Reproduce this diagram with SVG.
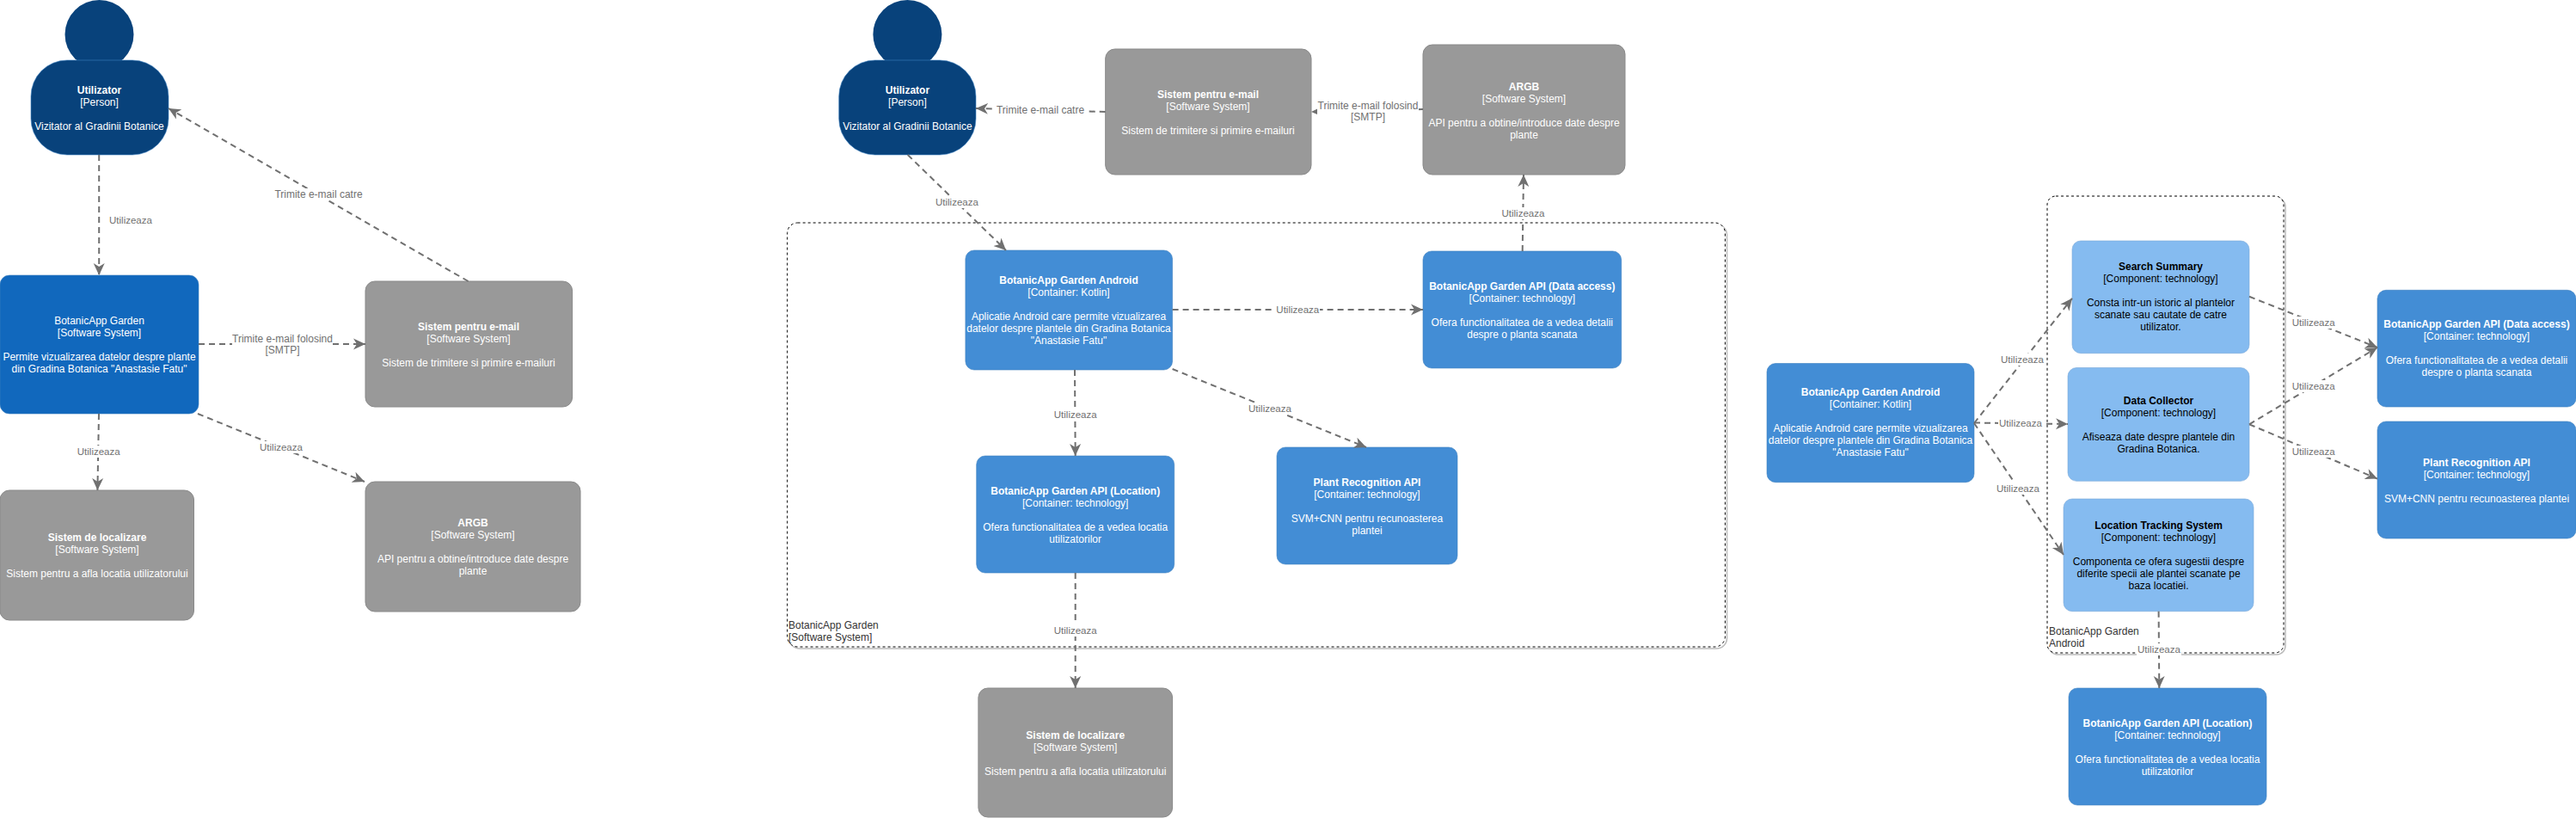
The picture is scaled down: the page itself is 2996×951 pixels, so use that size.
<svg xmlns="http://www.w3.org/2000/svg" width="2996" height="951" viewBox="0 0 2996 951">
<style>
text{font-family:"Liberation Sans",Arial,sans-serif;font-size:12px;text-anchor:middle}
.w{fill:#fff}.k{fill:#000}.b{font-weight:bold}
.person{fill:#08427b;stroke:#3c7fc0;stroke-width:.6}
.head{fill:#08427b}
.sys{fill:#1168bd;stroke:#3c7fc0;stroke-width:.6}
.ext{fill:#999;stroke:#8a8a8a}
.cont{fill:#438dd5;stroke:#3c7fc0;stroke-width:.6}
.comp{fill:#85bbf0;stroke:#78a8d8;stroke-width:.6}
.bnd{fill:#fff;stroke:#000;stroke-dasharray:3 3}
.shadow{fill:none;stroke:#bbb;stroke-width:1.5}
.c{fill:none;stroke:#707070;stroke-width:2;stroke-dasharray:7 5;marker-end:url(#a)}
.l{fill:#707070;font-size:11.500px}
.t{fill:#707070;font-size:12px}
.bg{fill:#fff}
.bl{fill:#333;text-anchor:start}
</style>
<defs>
<marker id="a" markerUnits="userSpaceOnUse" markerWidth="16" markerHeight="14" refX="14" refY="7" orient="auto"><path d="M0,0.5 L14,7 L0,13.5 L4,7 Z" fill="#707070"/></marker>
</defs>
<g id="boundary-system"><rect class="shadow" x="918" y="261" width="1090.500" height="493" rx="12"/><rect class="bnd" x="915.700" y="259" width="1090.700" height="493" rx="12"/><text class="bl" x="917" y="731">BotanicApp Garden</text><text class="bl" x="917" y="745">[Software System]</text></g>
<g id="boundary-android"><rect class="shadow" x="2383" y="230" width="275" height="531" rx="10"/><rect class="bnd" x="2381" y="228" width="275" height="531" rx="10"/><text class="bl" x="2383" y="738">BotanicApp Garden</text><text class="bl" x="2383" y="752">Android</text></g>

<g id="person-1"><ellipse class="head" cx="115.500" cy="40" rx="40" ry="40"/><rect class="person" x="36" y="70" width="160" height="110" rx="42"/><g class="w"><text class="b" x="115.500" y="109">Utilizator</text><text x="115.500" y="123">[Person]</text><text x="115.500" y="151">Vizitator al Gradinii Botanice</text></g></g>
<g id="system-1"><rect class="sys" x="0" y="320" width="231" height="161" rx="11"/><g class="w"><text x="115.500" y="377">BotanicApp Garden</text><text x="115.500" y="391">[Software System]</text><text x="115.500" y="419">Permite vizualizarea datelor despre plante</text><text x="115.500" y="433">din Gradina Botanica "Anastasie Fatu"</text></g></g>
<g id="email-1"><rect class="ext" x="425" y="327" width="240.600" height="146" rx="11"/><g class="w"><text class="b" x="545" y="384">Sistem pentru e-mail</text><text x="545" y="398">[Software System]</text><text x="545" y="426">Sistem de trimitere si primire e-mailuri</text></g></g>
<g id="loc-1"><rect class="ext" x="0" y="570" width="225.500" height="151" rx="11"/><g class="w"><text class="b" x="113" y="629">Sistem de localizare</text><text x="113" y="643">[Software System]</text><text x="113" y="671">Sistem pentru a afla locatia utilizatorului</text></g></g>
<g id="argb-1"><rect class="ext" x="425" y="560" width="250" height="151" rx="11"/><g class="w"><text class="b" x="550" y="612">ARGB</text><text x="550" y="626">[Software System]</text><text x="550" y="654">API pentru a obtine/introduce date despre</text><text x="550" y="668">plante</text></g></g>

<g id="person-2"><ellipse class="head" cx="1055.400" cy="40" rx="40" ry="40"/><rect class="person" x="975.700" y="70" width="159.300" height="110" rx="42"/><g class="w"><text class="b" x="1055.400" y="109">Utilizator</text><text x="1055.400" y="123">[Person]</text><text x="1055.400" y="151">Vizitator al Gradinii Botanice</text></g></g>
<g id="email-2"><rect class="ext" x="1285.700" y="57" width="239.300" height="146" rx="11"/><g class="w"><text class="b" x="1405" y="114">Sistem pentru e-mail</text><text x="1405" y="128">[Software System]</text><text x="1405" y="156">Sistem de trimitere si primire e-mailuri</text></g></g>
<g id="argb-2"><rect class="ext" x="1655" y="52" width="235" height="151" rx="11"/><g class="w"><text class="b" x="1772.500" y="105">ARGB</text><text x="1772.500" y="119">[Software System]</text><text x="1772.500" y="147">API pentru a obtine/introduce date despre</text><text x="1772.500" y="161">plante</text></g></g>
<g id="android-2"><rect class="cont" x="1122.900" y="291" width="240.700" height="139" rx="10"/><g class="w"><text class="b" x="1243" y="330">BotanicApp Garden Android</text><text x="1243" y="344">[Container: Kotlin]</text><text x="1243" y="372">Aplicatie Android care permite vizualizarea</text><text x="1243" y="386">datelor despre plantele din Gradina Botanica</text><text x="1243" y="400">"Anastasie Fatu"</text></g></g>
<g id="data-2"><rect class="cont" x="1655" y="292" width="230.700" height="136" rx="10"/><g class="w"><text class="b" x="1770.300" y="337">BotanicApp Garden API (Data access)</text><text x="1770.300" y="351">[Container: technology]</text><text x="1770.300" y="379">Ofera functionalitatea de a vedea detalii</text><text x="1770.300" y="393">despre o planta scanata</text></g></g>
<g id="location-2"><rect class="cont" x="1135.700" y="530" width="230" height="136" rx="10"/><g class="w"><text class="b" x="1250.700" y="575">BotanicApp Garden API (Location)</text><text x="1250.700" y="589">[Container: technology]</text><text x="1250.700" y="617">Ofera functionalitatea de a vedea locatia</text><text x="1250.700" y="631">utilizatorilor</text></g></g>
<g id="plant-2"><rect class="cont" x="1485" y="520" width="210" height="136" rx="10"/><g class="w"><text class="b" x="1590" y="565">Plant Recognition API</text><text x="1590" y="579">[Container: technology]</text><text x="1590" y="607">SVM+CNN pentru recunoasterea</text><text x="1590" y="621">plantei</text></g></g>
<g id="loc-2"><rect class="ext" x="1137.900" y="800" width="225.700" height="150" rx="11"/><g class="w"><text class="b" x="1250.700" y="859">Sistem de localizare</text><text x="1250.700" y="873">[Software System]</text><text x="1250.700" y="901">Sistem pentru a afla locatia utilizatorului</text></g></g>

<g id="android-3"><rect class="cont" x="2055" y="422.500" width="241" height="138.200" rx="10"/><g class="w"><text class="b" x="2175.500" y="460.400">BotanicApp Garden Android</text><text x="2175.500" y="474.400">[Container: Kotlin]</text><text x="2175.500" y="502.400">Aplicatie Android care permite vizualizarea</text><text x="2175.500" y="516.400">datelor despre plantele din Gradina Botanica</text><text x="2175.500" y="530.400">"Anastasie Fatu"</text></g></g>
<g id="search-3"><rect class="comp" x="2410" y="280" width="206" height="130.700" rx="10"/><g class="k"><text class="b" x="2513" y="314.400">Search Summary</text><text x="2513" y="328.400">[Component: technology]</text><text x="2513" y="356.400">Consta intr-un istoric al plantelor</text><text x="2513" y="370.400">scanate sau cautate de catre</text><text x="2513" y="384.400">utilizator.</text></g></g>
<g id="collector-3"><rect class="comp" x="2405" y="427.500" width="211" height="131.800" rx="10"/><g class="k"><text class="b" x="2510.500" y="469.700">Data Collector</text><text x="2510.500" y="483.700">[Component: technology]</text><text x="2510.500" y="511.700">Afiseaza date despre plantele din</text><text x="2510.500" y="525.700">Gradina Botanica.</text></g></g>
<g id="tracking-3"><rect class="comp" x="2400" y="580" width="221" height="130.700" rx="10"/><g class="k"><text class="b" x="2510.500" y="614.700">Location Tracking System</text><text x="2510.500" y="628.700">[Component: technology]</text><text x="2510.500" y="656.700">Componenta ce ofera sugestii despre</text><text x="2510.500" y="670.700">diferite specii ale plantei scanate pe</text><text x="2510.500" y="684.700">baza locatiei.</text></g></g>
<g id="data-3"><rect class="cont" x="2765" y="337.300" width="231" height="135.700" rx="10"/><g class="w"><text class="b" x="2880.500" y="381.400">BotanicApp Garden API (Data access)</text><text x="2880.500" y="395.400">[Container: technology]</text><text x="2880.500" y="423.400">Ofera functionalitatea de a vedea detalii</text><text x="2880.500" y="437.400">despre o planta scanata</text></g></g>
<g id="plant-3"><rect class="cont" x="2765" y="490" width="231" height="136" rx="10"/><g class="w"><text class="b" x="2880.500" y="541.500">Plant Recognition API</text><text x="2880.500" y="555.500">[Container: technology]</text><text x="2880.500" y="583.500">SVM+CNN pentru recunoasterea plantei</text></g></g>
<g id="location-3"><rect class="cont" x="2406" y="800" width="230" height="136" rx="10"/><g class="w"><text class="b" x="2521" y="844.600">BotanicApp Garden API (Location)</text><text x="2521" y="858.600">[Container: technology]</text><text x="2521" y="886.600">Ofera functionalitatea de a vedea locatia</text><text x="2521" y="900.600">utilizatorilor</text></g></g>

<g id="connectors">
<path class="c" d="M115.200,180 L115.200,320"/>
<path class="c" d="M544.600,327 L196,126"/>
<path class="c" d="M231,400 L425,400"/>
<path class="c" d="M115,481 L113.400,570"/>
<path class="c" d="M230,481 L424,560"/>
<path class="c" d="M1055.700,180 L1170,291"/>
<path class="c" d="M1285.700,130 L1135,126"/>
<path class="c" d="M1655,127 L1525,130"/>
<path class="c" d="M1770.700,292 L1772,203"/>
<path class="c" d="M1363.600,360 L1655,360"/>
<path class="c" d="M1250,430 L1250.700,530"/>
<path class="c" d="M1363.600,429 L1589,520"/>
<path class="c" d="M1250.700,666 L1250.700,800"/>
<path class="c" d="M2296,492 L2410,346.800"/>
<path class="c" d="M2296,491.500 L2405,493"/>
<path class="c" d="M2296,492 L2400,645"/>
<path class="c" d="M2616,344.800 L2765,404"/>
<path class="c" d="M2616,493.300 L2765,404"/>
<path class="c" d="M2616,493.300 L2765,556.600"/>
<path class="c" d="M2510.600,710.700 L2511.300,800"/>
<g id="labels">
<rect class="bg" x="126" y="249" width="52" height="14"/><text class="l" x="152" y="260">Utilizeaza</text>
<rect class="bg" x="319" y="219" width="103" height="14"/><text class="t" x="370.500" y="230">Trimite e-mail catre</text>
<rect class="bg" x="270" y="387" width="117" height="27"/><text class="t" x="328.500" y="398">Trimite e-mail folosind</text><text class="t" x="328.500" y="411">[SMTP]</text>
<rect class="bg" x="89" y="518" width="52" height="14"/><text class="l" x="114.700" y="529">Utilizeaza</text>
<rect class="bg" x="301" y="513" width="52" height="14"/><text class="l" x="327" y="524">Utilizeaza</text>
<rect class="bg" x="1087" y="228" width="52" height="14"/><text class="l" x="1112.900" y="239">Utilizeaza</text>
<rect class="bg" x="1158" y="121" width="104" height="14"/><text class="t" x="1210" y="132">Trimite e-mail catre</text>
<rect class="bg" x="1532" y="116" width="118" height="27"/><text class="t" x="1591" y="127">Trimite e-mail folosind</text><text class="t" x="1591" y="140">[SMTP]</text>
<rect class="bg" x="1745" y="241" width="52" height="14"/><text class="l" x="1771.400" y="252">Utilizeaza</text>
<rect class="bg" x="1483" y="353" width="52" height="14"/><text class="l" x="1509.300" y="364">Utilizeaza</text>
<rect class="bg" x="1225" y="475" width="52" height="14"/><text class="l" x="1250.700" y="486">Utilizeaza</text>
<rect class="bg" x="1451" y="468" width="52" height="14"/><text class="l" x="1477" y="479">Utilizeaza</text>
<rect class="bg" x="1225" y="726" width="52" height="14"/><text class="l" x="1250.700" y="737">Utilizeaza</text>
<rect class="bg" x="2326" y="411" width="52" height="14"/><text class="l" x="2352" y="422">Utilizeaza</text>
<rect class="bg" x="2324" y="485" width="52" height="14"/><text class="l" x="2350" y="496">Utilizeaza</text>
<rect class="bg" x="2321" y="561" width="52" height="14"/><text class="l" x="2347" y="572">Utilizeaza</text>
<rect class="bg" x="2665" y="368" width="52" height="14"/><text class="l" x="2690.700" y="379">Utilizeaza</text>
<rect class="bg" x="2665" y="442" width="52" height="14"/><text class="l" x="2690.700" y="453">Utilizeaza</text>
<rect class="bg" x="2665" y="518" width="52" height="14"/><text class="l" x="2690.700" y="529">Utilizeaza</text>
<rect class="bg" x="2485" y="748" width="52" height="14"/><text class="l" x="2511" y="759">Utilizeaza</text>
</g>
</g>
</svg>
